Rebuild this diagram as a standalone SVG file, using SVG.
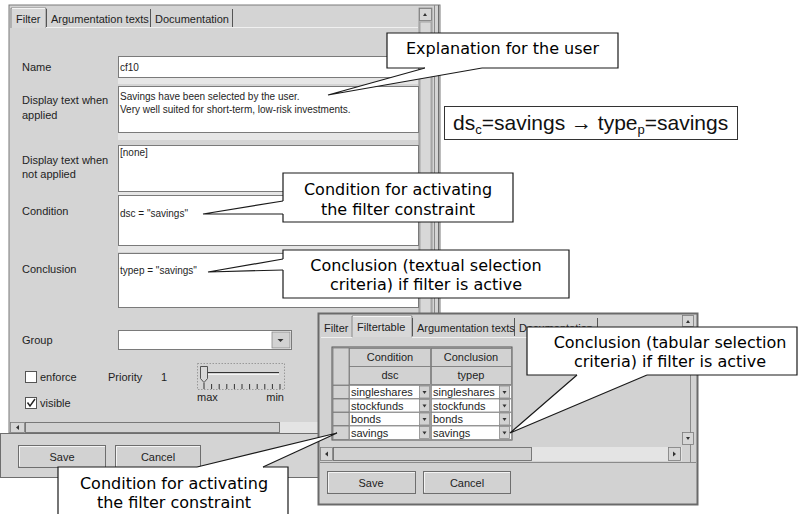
<svg xmlns="http://www.w3.org/2000/svg" width="806" height="514" viewBox="0 0 806 514">
<style>
.ui{font-family:"Liberation Sans",Arial,sans-serif;font-size:11px;fill:#1e1e1e}
.f10{font-size:10px}
.mid{text-anchor:middle}
.co{font-family:"DejaVu Sans",Verdana,sans-serif;font-size:16px;fill:#000;text-anchor:middle}
.cobg{fill:#fff;stroke:none}
.cob{fill:none;stroke:#1a1a1a;stroke-width:1.2}
.field{fill:#fff;stroke:#7a7a7a;stroke-width:1}
.band{fill:#e6e6e6}
.btn{fill:#d2d2d2;stroke:#6e6e6e;stroke-width:1}
.hl{stroke:#f4f4f4;stroke-width:1;fill:none}
.cell{fill:#fff;stroke:#8a8a8a;stroke-width:0.8}
.hdr{fill:#d2d2d2;stroke:#7a7a7a;stroke-width:0.8}
.wedge{fill:#fff;stroke:none}
.wl{fill:none;stroke:#1a1a1a;stroke-width:1.2}
</style>
<defs>
<g id="arr">
<rect x="0" y="0" width="10" height="12" fill="#d2d2d2" stroke="#8a8a8a" stroke-width="0.8"/>
<path d="M3,5 h4 l-2,3 z" fill="#333"/>
</g>
</defs>
<rect x="0" y="0" width="806" height="514" fill="#fff"/>

<g id="main-window">
<rect x="9" y="5" width="431" height="428" fill="#d4d4d4" stroke="#7a7a7a"/>
<rect x="0.5" y="433.5" width="439" height="44" fill="#d4d4d4" stroke="#6e6e6e"/>
<line x1="434.5" y1="5" x2="434.5" y2="433" stroke="#8a8a8a"/>
<line x1="438.5" y1="5" x2="438.5" y2="433" stroke="#6e6e6e"/>
<!-- tabs -->
<path d="M11,28 V8 H46 V28" fill="#d8d8d8" stroke="#8a8a8a"/>
<line x1="12" y1="8.5" x2="45" y2="8.5" class="hl"/>
<line x1="46.5" y1="9" x2="46.5" y2="27" stroke="#555"/>
<line x1="150.5" y1="9" x2="150.5" y2="27" stroke="#555"/>
<line x1="232.5" y1="9" x2="232.5" y2="27" stroke="#555"/>
<line x1="46" y1="27.5" x2="418" y2="27.5" stroke="#f0f0f0"/>
<text class="ui" x="16" y="23">Filter</text>
<text class="ui" x="51" y="23">Argumentation texts</text>
<text class="ui" x="155" y="23">Documentation</text>
<!-- vertical scrollbar -->
<rect x="419" y="8" width="13" height="412" fill="#c6c6c6" stroke="#8a8a8a" stroke-width="0.8"/>
<rect x="419.5" y="8.5" width="12" height="12" fill="#d6d6d6" stroke="#7a7a7a" stroke-width="0.8"/>
<path d="M423,16 h4 l-2,-3 z" fill="#333"/>
<rect x="420" y="22" width="11" height="396" fill="#d8d8d8" stroke="#9a9a9a" stroke-width="0.8"/>
<!-- labels -->
<text class="ui" x="22" y="71">Name</text>
<text class="ui" x="22" y="104">Display text when</text>
<text class="ui" x="22" y="119">applied</text>
<text class="ui" x="22" y="164">Display text when</text>
<text class="ui" x="22" y="178">not applied</text>
<text class="ui" x="22" y="215">Condition</text>
<text class="ui" x="22" y="273">Conclusion</text>
<text class="ui" x="22" y="344">Group</text>
<!-- fields -->
<rect class="band" x="118" y="78" width="300" height="6"/>
<rect class="field" x="118.5" y="56.5" width="300" height="21"/>
<text class="ui f10" x="120" y="71">cf10</text>
<rect class="band" x="118" y="133" width="300" height="7"/>
<rect class="field" x="118.5" y="86.5" width="300" height="46"/>
<text class="ui f10" x="120" y="100">Savings have been selected by the user.</text>
<text class="ui f10" x="120" y="113">Very well suited for short-term, low-risk investments.</text>
<rect class="band" x="118" y="192" width="300" height="3"/>
<rect class="field" x="118.5" y="145.5" width="300" height="46"/>
<text class="ui f10" x="120" y="156">[none]</text>
<rect class="band" x="118" y="245" width="300" height="7"/>
<rect class="field" x="118.5" y="195.5" width="300" height="50"/>
<text class="ui f10" x="120" y="217">dsc = "savings"</text>
<rect class="field" x="118.5" y="253.5" width="300" height="54"/>
<text class="ui f10" x="120" y="274">typep = "savings"</text>
<!-- group combo -->
<rect class="field" x="118.5" y="330.5" width="173" height="19"/>
<rect x="272" y="332" width="18" height="16" fill="#d2d2d2" stroke="#8a8a8a" stroke-width="0.8"/>
<path d="M277.5,339 h6 l-3,3 z" fill="#333"/>
<!-- checkboxes -->
<rect x="25.5" y="371.5" width="11" height="11" fill="#fff" stroke="#555"/>
<text class="ui" x="40" y="381">enforce</text>
<text class="ui" x="108" y="381">Priority</text>
<text class="ui" x="161" y="381">1</text>
<rect x="25.5" y="397.5" width="11" height="11" fill="#fff" stroke="#555"/>
<path d="M27.5,402.5 l2.5,3.5 l5,-7" fill="none" stroke="#222" stroke-width="1.4"/>
<text class="ui" x="40" y="407">visible</text>
<!-- slider -->
<rect x="197.5" y="363.5" width="87" height="26" fill="none" stroke="#8a8a8a" stroke-width="0.8" stroke-dasharray="1.5,1.5"/>
<line x1="207" y1="372.5" x2="279" y2="372.5" stroke="#333" stroke-width="1.2"/>
<line x1="207" y1="374.5" x2="279" y2="374.5" stroke="#f4f4f4"/>
<path d="M200.5,366.5 H207.5 V378.5 L204,382.5 L200.5,378.5 Z" fill="#d8d8d8" stroke="#444" stroke-width="0.9"/>
<g stroke="#333" stroke-width="1">
<line x1="204" y1="383" x2="204" y2="389"/><line x1="211.6" y1="384" x2="211.6" y2="389"/><line x1="219.2" y1="384" x2="219.2" y2="389"/><line x1="226.8" y1="384" x2="226.8" y2="389"/><line x1="234.4" y1="384" x2="234.4" y2="389"/><line x1="242" y1="384" x2="242" y2="389"/><line x1="249.6" y1="384" x2="249.6" y2="389"/><line x1="257.2" y1="384" x2="257.2" y2="389"/><line x1="264.8" y1="384" x2="264.8" y2="389"/><line x1="272.4" y1="384" x2="272.4" y2="389"/><line x1="280" y1="384" x2="280" y2="389"/>
</g>
<text class="ui" x="197" y="401">max</text>
<text class="ui" x="284" y="401" text-anchor="end">min</text>
<!-- horizontal scrollbar -->
<rect x="10" y="422" width="409" height="11" fill="#e4e4e4"/>
<rect x="10.5" y="422.5" width="14" height="10" fill="#d6d6d6" stroke="#7a7a7a" stroke-width="0.8"/>
<path d="M19,425 v5 l-3,-2.5 z" fill="#333"/>
<rect x="25.5" y="422.5" width="254" height="10" fill="#d2d2d2" stroke="#6e6e6e" stroke-width="0.9"/>
<!-- buttons -->
<rect class="btn" x="18.5" y="445.5" width="87" height="22"/>
<path class="hl" d="M19.5,466 V446.5 H105"/>
<text class="ui mid" x="62" y="461">Save</text>
<rect class="btn" x="115.5" y="445.5" width="85" height="22"/>
<path class="hl" d="M116.5,466 V446.5 H200"/>
<text class="ui mid" x="158" y="461">Cancel</text>
</g>

<g id="formula">
<rect x="444.5" y="106.5" width="293" height="33" fill="#fff" stroke="#333"/>
<text x="453" y="130" font-family="'Liberation Sans',Arial,sans-serif" font-size="21" fill="#111">ds<tspan font-size="13" dy="4">c</tspan><tspan dy="-4">=savings → type</tspan><tspan font-size="13" dy="4">p</tspan><tspan dy="-4">=savings</tspan></text>
</g>

<g id="table-window">
<rect x="318.5" y="313.5" width="379" height="191" fill="#d2d2d2" stroke="#6a6a6a" stroke-width="2"/>
<!-- tabs -->
<path d="M352,337 V316 H412 V337" fill="#d8d8d8" stroke="#8a8a8a"/>
<line x1="353" y1="316.5" x2="411" y2="316.5" class="hl"/>
<line x1="412.5" y1="318" x2="412.5" y2="336" stroke="#555"/>
<line x1="514.5" y1="318" x2="514.5" y2="336" stroke="#555"/>
<line x1="597.5" y1="318" x2="597.5" y2="336" stroke="#555"/>
<line x1="321" y1="337.5" x2="352" y2="337.5" stroke="#f0f0f0"/>
<line x1="412" y1="337.5" x2="682" y2="337.5" stroke="#f0f0f0"/>
<text class="ui" x="324" y="332">Filter</text>
<text class="ui" x="357" y="331">Filtertable</text>
<text class="ui" x="417" y="332">Argumentation texts</text>
<text class="ui" x="519" y="332">Documentation</text>
<!-- scrollbar -->
<line x1="690.5" y1="316" x2="690.5" y2="462" stroke="#8a8a8a"/>
<rect x="682.5" y="315.5" width="11" height="11" fill="#d6d6d6" stroke="#7a7a7a" stroke-width="0.8"/>
<path d="M686,323 h4 l-2,-3 z" fill="#333"/>
<rect x="682.5" y="432.5" width="11" height="12" fill="#d6d6d6" stroke="#7a7a7a" stroke-width="0.8"/>
<path d="M686,437 h4 l-2,3 z" fill="#333"/>
<!-- table -->
<rect x="332" y="347" width="180" height="93" fill="#c8c8c8" stroke="#555" stroke-width="1"/>
<rect class="hdr" x="333" y="348" width="16" height="37"/>
<rect class="hdr" x="349.5" y="348.5" width="81" height="18"/>
<rect class="hdr" x="431.5" y="348.5" width="80" height="18"/>
<rect class="hdr" x="349.5" y="366.5" width="81" height="18"/>
<rect class="hdr" x="431.5" y="366.5" width="80" height="18"/>
<text class="ui mid" x="390" y="361">Condition</text>
<text class="ui mid" x="471" y="361">Conclusion</text>
<text class="ui mid" x="390" y="379">dsc</text>
<text class="ui mid" x="471" y="379">typep</text>
<rect class="hdr" x="333" y="385.5" width="16" height="13"/>
<rect class="hdr" x="333" y="399" width="16" height="13"/>
<rect class="hdr" x="333" y="412.5" width="16" height="13"/>
<rect class="hdr" x="333" y="426" width="16" height="13.5"/>
<rect class="cell" x="349.5" y="385.5" width="81" height="13"/>
<rect class="cell" x="431.5" y="385.5" width="80" height="13"/>
<rect class="cell" x="349.5" y="399" width="81" height="13"/>
<rect class="cell" x="431.5" y="399" width="80" height="13"/>
<rect class="cell" x="349.5" y="412.5" width="81" height="13"/>
<rect class="cell" x="431.5" y="412.5" width="80" height="13"/>
<rect class="cell" x="349.5" y="426" width="81" height="13.5"/>
<rect class="cell" x="431.5" y="426" width="80" height="13.5"/>
<use href="#arr" x="419.5" y="386"/>
<use href="#arr" x="499.5" y="386"/>
<use href="#arr" x="419.5" y="399.5"/>
<use href="#arr" x="499.5" y="399.5"/>
<use href="#arr" x="419.5" y="413"/>
<use href="#arr" x="499.5" y="413"/>
<use href="#arr" x="419.5" y="426.5"/>
<use href="#arr" x="499.5" y="426.5"/>
<text class="ui" x="351" y="396">singleshares</text>
<text class="ui" x="433" y="396">singleshares</text>
<text class="ui" x="351" y="409.5">stockfunds</text>
<text class="ui" x="433" y="409.5">stockfunds</text>
<text class="ui" x="351" y="423">bonds</text>
<text class="ui" x="433" y="423">bonds</text>
<text class="ui" x="351" y="436.5">savings</text>
<text class="ui" x="433" y="436.5">savings</text>
<!-- horizontal scrollbar -->
<rect x="320" y="447" width="362" height="14" fill="#e4e4e4"/>
<rect x="320.5" y="447.5" width="12" height="13" fill="#d6d6d6" stroke="#7a7a7a" stroke-width="0.8"/>
<path d="M328,451.5 v5 l-3,-2.5 z" fill="#333"/>
<rect x="333.5" y="447.5" width="198" height="13" fill="#d2d2d2" stroke="#6e6e6e" stroke-width="0.9"/>
<rect x="668.5" y="447.5" width="12" height="13" fill="#d6d6d6" stroke="#7a7a7a" stroke-width="0.8"/>
<path d="M673,451.5 v5 l3,-2.5 z" fill="#333"/>
<line x1="320" y1="462.5" x2="696" y2="462.5" stroke="#8a8a8a"/>
<!-- buttons -->
<rect class="btn" x="327.5" y="471.5" width="88" height="22"/>
<path class="hl" d="M328.5,492 V472.5 H415"/>
<text class="ui mid" x="371" y="487">Save</text>
<rect class="btn" x="423.5" y="471.5" width="87" height="22"/>
<path class="hl" d="M424.5,492 V472.5 H510"/>
<text class="ui mid" x="467" y="487">Cancel</text>
</g>

<g id="callout-explanation">
<rect class="cobg" x="387" y="33" width="231" height="35"/>
<path class="cob" d="M425,68 H387 V33 H618 V68 H482"/>
<text class="co" x="502.5" y="54">Explanation for the user</text>
</g>
<g id="callout-condition">
<rect class="cobg" x="283" y="173" width="230" height="49"/>
<path class="cob" d="M283,201 V173 H513 V222 H283 V214"/>
<text class="co" x="398" y="195">Condition for activating</text>
<text class="co" x="398" y="215">the filter constraint</text>
</g>
<g id="callout-conclusion-text">
<rect class="cobg" x="283" y="250" width="286" height="48"/>
<path class="cob" d="M283,259 V250 H569 V298 H283 V270"/>
<text class="co" x="426" y="271">Conclusion (textual selection</text>
<text class="co" x="426" y="290">criteria) if filter is active</text>
</g>
<g id="callout-conclusion-table">
<rect class="cobg" x="527" y="327" width="270" height="48"/>
<path class="cob" d="M577,375 H527 V327 H797 V375 H647"/>
<text class="co" x="670" y="348">Conclusion (tabular selection</text>
<text class="co" x="670" y="367">criteria) if filter is active</text>
</g>
<g id="callout-condition-table">
<rect class="cobg" x="58" y="467" width="230" height="50"/>
<path class="cob" d="M197,467 H58 V520 M288,520 V467 H263"/>
<text class="co" x="174" y="489">Condition for activating</text>
<text class="co" x="174" y="508">the filter constraint</text>
</g>

<g id="connectors">
<polygon class="wedge" points="425,68 328,95 482,68"/>
<polyline class="wl" points="425,68 328,95 482,68"/>
<polygon class="wedge" points="283,201 203,214 283,214"/>
<polyline class="wl" points="283,201 203,214 283,214"/>
<polygon class="wedge" points="283,259 208,272 283,270"/>
<polyline class="wl" points="283,259 208,272 283,270"/>
<polygon class="wedge" points="577,375 510,433 647,375"/>
<polyline class="wl" points="577,375 510,433 647,375"/>
<polygon class="wedge" points="197,467 337,433 263,467"/>
<polyline class="wl" points="197,467 337,433 263,467"/>
</g>
</svg>
